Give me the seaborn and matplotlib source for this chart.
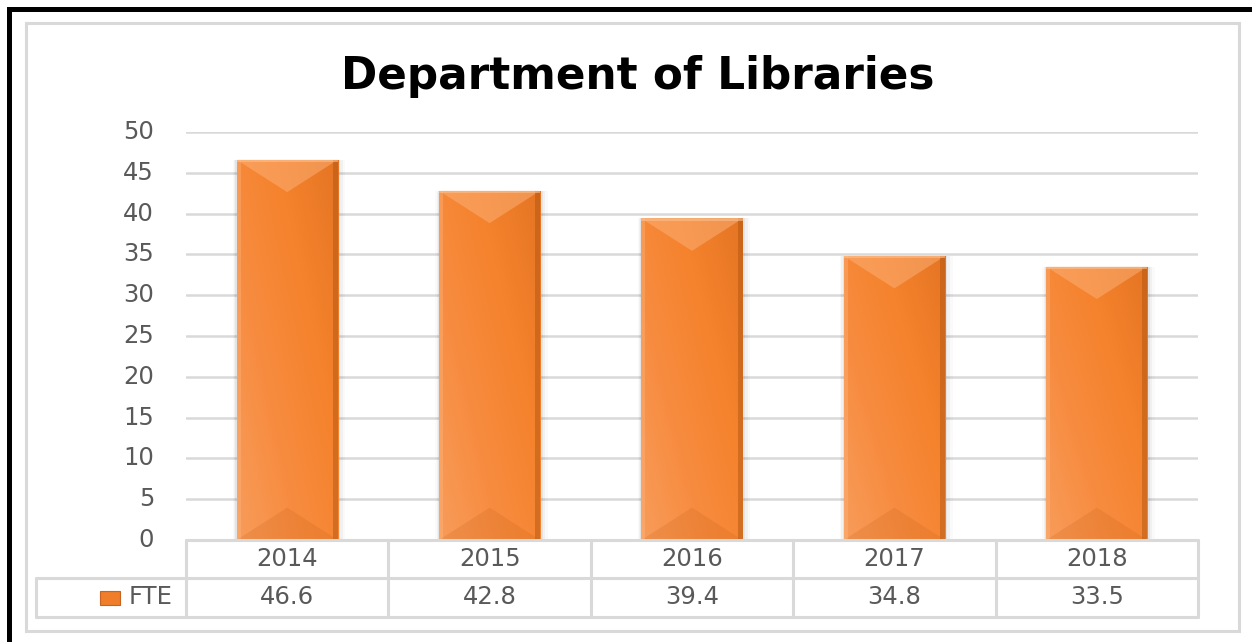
import numpy as np
import matplotlib
matplotlib.use("Agg")
import matplotlib.pyplot as plt
from matplotlib.patches import Rectangle, Polygon
import matplotlib.colors as mcolors
import seaborn as sns
import pandas as pd

# Data
years = ["2014", "2015", "2016", "2017", "2018"]
fte = [46.6, 42.8, 39.4, 34.8, 33.5]
series_name = "FTE"
title = "Department of Libraries"
y_ticks = [0, 5, 10, 15, 20, 25, 30, 35, 40, 45, 50]

sns.set_theme(style="white")
plt.rcParams["font.family"] = ["DejaVu Sans"]

TEXT = "#595959"
GRID = "#d9d9d9"
ORANGE = "#f68c40"
FS = 17.5

W, H = 1252, 642
fig = plt.figure(figsize=(W / 100, H / 100), dpi=100)
fig.patch.set_facecolor("white")

def fx(px):
    return px / W

def fy(py):
    return 1 - py / H

# outer black frame (top and left) and inner light chart border
fig.add_artist(Rectangle((fx(7), 0), fx(5), fy(7), transform=fig.transFigure,
                         facecolor="black", edgecolor="none"))
fig.add_artist(Rectangle((fx(7), fy(12)), 1, fy(7) - fy(12), transform=fig.transFigure,
                         facecolor="black", edgecolor="none"))
fig.add_artist(Rectangle((fx(26), fy(631)), fx(1239 - 26), fy(23) - fy(631),
                         transform=fig.transFigure, facecolor="none",
                         edgecolor=GRID, linewidth=2.2))

ax = fig.add_axes([fx(186), fy(540), fx(1198 - 186), fy(132) - fy(540)])
df = pd.DataFrame({"year": years, "value": fte})
sns.barplot(data=df, x="year", y="value", color=ORANGE, width=0.5,
            saturation=1, edgecolor="none", ax=ax, zorder=3)

ax.set_ylim(0, 50)
ax.set_xlim(-0.5, len(years) - 0.5)
ax.set_yticks(y_ticks)
ax.set_yticklabels([str(t) for t in y_ticks], fontsize=FS, color=TEXT)
ax.tick_params(axis="y", length=0, pad=23)
for lbl in ax.get_yticklabels():
    lbl.set_verticalalignment("center")
ax.set_xticks([])
ax.set_xlabel("")
ax.set_ylabel("")
for s in ax.spines.values():
    s.set_visible(False)
ax.set_facecolor("none")
ax.grid(False)
for t in y_ticks[1:]:
    ax.axhline(t, color=GRID, linewidth=1.8, zorder=1)

# bevelled bar styling derived from each bar's geometry
grad_cmap = mcolors.LinearSegmentedColormap.from_list(
    "bar", ["#f89c5a", "#f78c40", "#f5822c", "#e57524"])
px_per_unit = ax.bbox.height / 50.0
px_per_x = ax.bbox.width / len(years)
for p in ax.patches:
    x0, w, h = p.get_x(), p.get_width(), p.get_height()
    x1, xc = x0 + w, x0 + w / 2
    # soft side shadow
    for k, a in enumerate([0.05, 0.035, 0.02]):
        off = (k + 1) * 2.5 / px_per_x
        ax.add_patch(Rectangle((x0 - off * 0.5, 0), w + 1.5 * off, h,
                               facecolor="black", alpha=a, edgecolor="none", zorder=2))
    gx = np.linspace(0, 1, 64)[None, :]
    gy = np.linspace(0, 1, 64)[:, None]
    grad = 0.55 * gx + 0.45 * (1 - gy)
    im = ax.imshow(grad, extent=(x0, x1, 0, h), origin="upper", cmap=grad_cmap,
                   aspect="auto", zorder=3.5, vmin=0, vmax=1)
    im.set_clip_path(p)
    d = (w * px_per_x * 0.32) / px_per_unit
    ax.add_patch(Polygon([(x0, h), (x1, h), (xc, h - d)], closed=True,
                         facecolor="#fbb27a", alpha=0.5, edgecolor="none", zorder=4))
    ax.add_patch(Polygon([(x0, 0), (x1, 0), (xc, d)], closed=True,
                         facecolor="#c85f14", alpha=0.2, edgecolor="none", zorder=4))
    ax.add_patch(Rectangle((x1 - w * 0.05, 0), w * 0.05, h, facecolor="#a9520f",
                           alpha=0.45, edgecolor="none", zorder=4))
    ax.add_patch(Rectangle((x0, 0), w * 0.04, h, facecolor="#fdbb88",
                           alpha=0.35, edgecolor="none", zorder=4))
    ax.add_patch(Rectangle((x0, h - 0.25), w, 0.25, facecolor="#fcc08f",
                           alpha=0.6, edgecolor="none", zorder=4))

# data table below the plot
trans = ax.get_xaxis_transform()
row1 = -38 / ax.bbox.height
row2 = -77 / ax.bbox.height
n = len(years)
tkw = dict(color=GRID, linewidth=2.2, clip_on=False, transform=trans, zorder=5)
ax.plot([-0.5, n - 0.5], [0, 0], **tkw)
left_x = -0.5 - (186 - 36) / px_per_x
ax.plot([left_x, n - 0.5], [row1, row1], **tkw)
ax.plot([left_x, n - 0.5], [row2, row2], **tkw)
ax.plot([left_x, left_x], [row1, row2], **tkw)
for i in range(n + 1):
    ax.plot([i - 0.5, i - 0.5], [0, row2], **tkw)
for i, (yr, v) in enumerate(zip(years, fte)):
    ax.text(i, row1 / 2, yr, transform=trans, ha="center", va="center",
            fontsize=FS, color=TEXT, clip_on=False)
    ax.text(i, (row1 + row2) / 2, f"{v:.1f}", transform=trans, ha="center",
            va="center", fontsize=FS, color=TEXT, clip_on=False)

# legend key in the table
key_x = -0.5 - (186 - 100) / px_per_x
key_w = 20 / px_per_x
key_h = 14 / ax.bbox.height
key_y = (row1 + row2) / 2 - key_h / 2
ax.add_patch(Rectangle((key_x, key_y), key_w, key_h, transform=trans,
                       facecolor="#ef7d2a", edgecolor="#c8641f", linewidth=0.8,
                       clip_on=False, zorder=6))
ax.text(-0.5 - (186 - 129) / px_per_x, (row1 + row2) / 2, series_name,
        transform=trans, ha="left", va="center", fontsize=FS, color=TEXT,
        clip_on=False)

fig.text(fx(638), fy(76), title, ha="center", va="center", fontsize=31.5,
         fontweight="bold", color="black")

fig.savefig("out.png", dpi=100)
